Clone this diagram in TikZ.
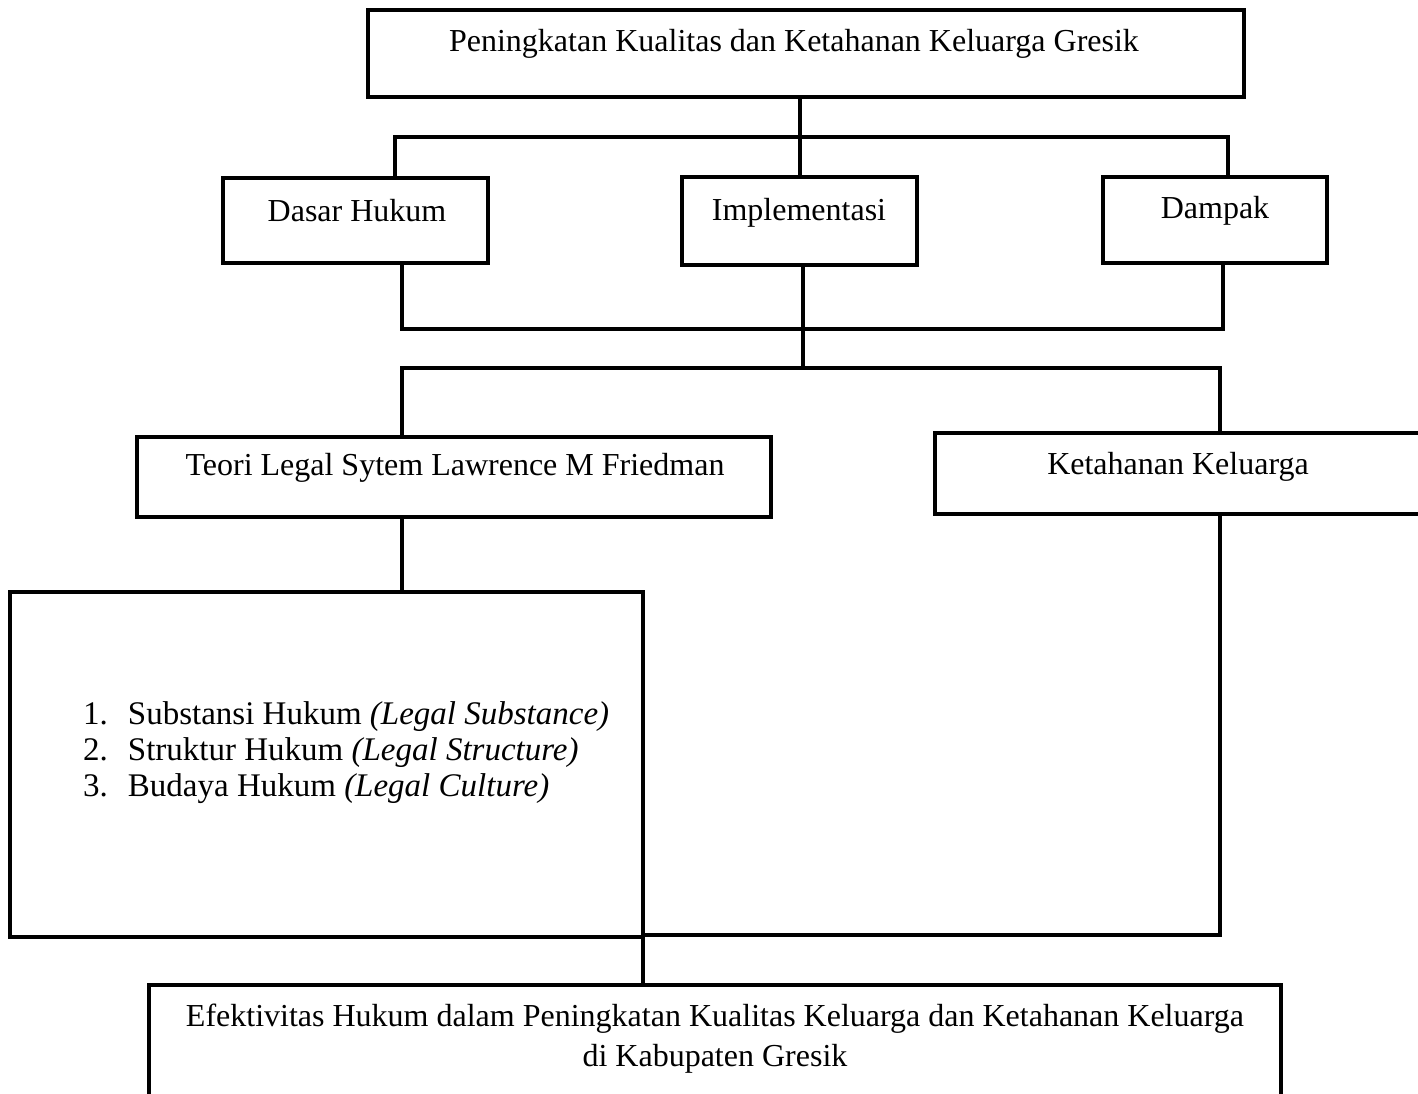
\documentclass[tikz,border=0pt]{standalone}
\usepackage{fontspec}
\setmainfont{Liberation Serif}
\usetikzlibrary{calc}
\begin{document}
\begin{tikzpicture}[x=1pt,y=-1pt,
  box/.style={draw, line width=4.5pt, rectangle, inner sep=0pt},
  conn/.style={line width=4pt},
  txt/.style={inner sep=0pt, font=\fontsize{32}{38}\selectfont}]
\clip (0,0) rectangle (1418,1093);
\fill[white] (0,0) rectangle (1418,1093);
% boxes
\node[box, minimum width=876pt, minimum height=87pt] (top) at (806,53.5) {};
\node[box, minimum width=265pt, minimum height=85pt] (dh) at (355.5,220.5) {};
\node[box, minimum width=235pt, minimum height=88pt] (imp) at (799.5,221) {};
\node[box, minimum width=224pt, minimum height=86pt] (dam) at (1215,220) {};
\node[box, minimum width=634pt, minimum height=80pt] (teori) at (454,477) {};
\node[box, minimum width=495pt, minimum height=81pt] (ket) at (1182.5,473.5) {};
\node[box, minimum width=633pt, minimum height=345pt] (list) at (326.5,764.5) {};
\node[box, minimum width=1132pt, minimum height=120pt] (bot) at (715,1045) {};
% texts
\node[txt] (toptxt) at (794,44) {Peningkatan Kualitas dan Ketahanan Keluarga Gresik};
\node[txt] (dhtxt) at (357,211) {Dasar Hukum};
\node[txt] (imptxt) at (799,213) {Implementasi};
\node[txt] (damtxt) at (1215,211) {Dampak};
\node[txt] (teoritxt) at (455,468) {Teori Legal Sytem Lawrence M Friedman};
\node[txt] (kettxt) at (1178,467) {Ketahanan Keluarga};
\node[txt, anchor=west, font=\fontsize{33}{36}\selectfont] (listtxt) at (83,753) {\begin{tabular}{@{}l@{\hspace{20pt}}l@{}}
1. & Substansi Hukum \textit{(Legal Substance)}\\
2. & Struktur Hukum \textit{(Legal Structure)}\\
3. & Budaya Hukum \textit{(Legal Culture)}
\end{tabular}};
\node[txt, align=center, font=\fontsize{32}{40}\selectfont] (bottxt) at (715,1039) {Efektivitas Hukum dalam Peningkatan Kualitas Keluarga dan Ketahanan Keluarga\\di Kabupaten Gresik};
% connectors
\coordinate (j1) at (800,137);
\coordinate (j2) at (803,329);
\coordinate (j3) at (803,368);
\coordinate (j4) at (643,935);
\draw[conn] (top.south -| j1) -- ([yshift=-4]imp.north -| j1);
\draw[conn] ([xshift=39.5]dh.north) |- (j1) -| ([xshift=13]dam.north);
\draw[conn] ([xshift=46.5]dh.south) |- (j2) -| ([xshift=8]dam.south);
\draw[conn] ([xshift=3.5]imp.south) -- (j3);
\draw[conn] ([xshift=-52]teori.north) |- (j3) -| ([xshift=37.5]ket.north);
\draw[conn] ([xshift=-52]teori.south) -- ([xshift=-52]teori.south |- list.north);
\draw[conn] ([xshift=37.5]ket.south) |- (j4) -- (j4 |- bot.north);
\end{tikzpicture}
\end{document}
